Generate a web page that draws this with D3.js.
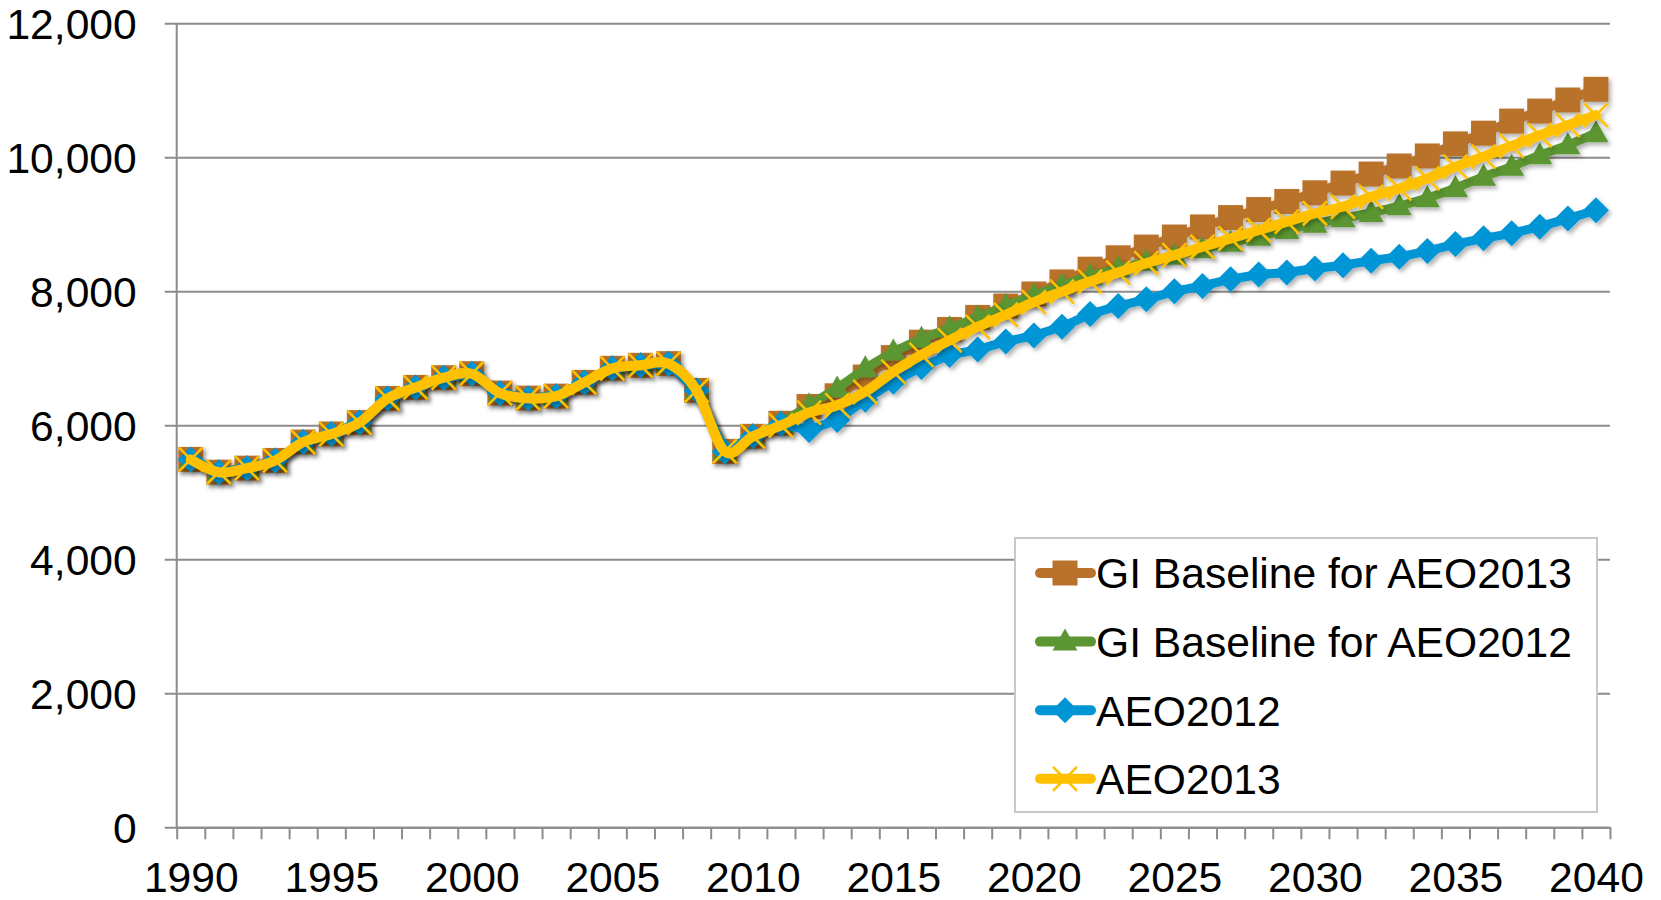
<!DOCTYPE html>
<html>
<head>
<meta charset="utf-8">
<script src="https://cdn.jsdelivr.net/npm/d3@7"></script>
<style>
  body { margin: 0; background: #fff; }
  svg { display: block; }
  text { font-family: "Liberation Sans", Arial, sans-serif; fill: #000; }
</style>
</head>
<body>
<svg id="viz"></svg>
<script>
var years = d3.range(1990, 2041);
var xLabels = [1990, 1995, 2000, 2005, 2010, 2015, 2020, 2025, 2030, 2035, 2040];
var yTicks = [0, 2000, 4000, 6000, 8000, 10000, 12000];

// 1990-2010, shared by every series
var historical = [5490, 5300, 5360, 5475, 5750, 5870, 6040, 6400, 6565, 6710, 6770,
                  6480, 6405, 6435, 6640, 6850, 6895, 6920, 6520, 5610, 5835];

// 2011-2040
var giAeo2013 = [6030, 6280, 6440, 6720, 7010, 7240, 7430, 7610, 7780, 7960,
                 8140, 8330, 8500, 8660, 8810, 8960, 9100, 9220, 9340, 9470,
                 9615, 9750, 9870, 10020, 10200, 10360, 10540, 10690, 10855, 11015];
var giAeo2012 = [6030, 6300, 6550, 6850, 7100, 7290, 7450, 7610, 7780, 7940,
                 8090, 8230, 8340, 8440, 8530, 8630, 8725, 8815, 8915, 9010,
                 9090, 9170, 9270, 9390, 9540, 9710, 9860, 10030, 10180, 10360];
var aeo2012 = [6020, 5930, 6080, 6380, 6650, 6870, 7050, 7130, 7250, 7340,
               7470, 7660, 7780, 7880, 8000, 8080, 8180, 8250, 8280, 8340,
               8390, 8455, 8515, 8600, 8705, 8790, 8865, 8965, 9085, 9210];
var aeo2013 = [6000, 6190, 6300, 6500, 6800, 7050, 7270, 7470, 7650, 7840,
               7995, 8145, 8280, 8420, 8540, 8665, 8790, 8915, 9040, 9165,
               9265, 9410, 9535, 9685, 9860, 10010, 10170, 10330, 10480, 10630];

var seriesNames = ["GI Baseline for AEO2013", "GI Baseline for AEO2012", "AEO2012", "AEO2013"];
var seriesColors = ["#b9722b", "#5b9632", "#0096d6", "#ffc000"];
var seriesShapes = ["square", "triangle", "diamond", "x"];
var seriesValues = [giAeo2013, giAeo2012, aeo2012, aeo2013];

var width = 1661, height = 900;
var plotLeft = 176.7, plotRight = 1610, plotTop = 23.3, plotBottom = 827.3;
var fontSize = 42.6;

var svg = d3.select("#viz").attr("width", width).attr("height", height);

var defs = svg.append("defs");
defs.append("filter").attr("id", "shadow")
    .attr("x", "-20%").attr("y", "-20%").attr("width", "140%").attr("height", "140%")
  .append("feDropShadow")
    .attr("dx", 2.5).attr("dy", 3).attr("stdDeviation", 2)
    .attr("flood-color", "#000").attr("flood-opacity", 0.3);

var x = d3.scaleLinear().domain([1989.5, 2040.5]).range([plotLeft, plotRight]);
var y = d3.scaleLinear().domain([0, 12000]).range([plotBottom, plotTop]);

// gridlines + y labels
var yAxis = svg.append("g")
    .attr("transform", "translate(" + plotLeft + ",0)")
    .call(d3.axisLeft(y).tickValues(yTicks).tickSizeOuter(0)
        .tickSize(-(plotRight - plotLeft)).tickPadding(40).tickFormat(d3.format(",")));
yAxis.select(".domain").remove();
yAxis.selectAll(".tick line").attr("x1", -12).attr("stroke", "#8c8c8c").attr("stroke-width", 2);
yAxis.selectAll(".tick text").attr("font-size", fontSize).attr("dy", "0.35em");

svg.append("line")
    .attr("x1", plotLeft).attr("x2", plotLeft).attr("y1", plotTop).attr("y2", plotBottom)
    .attr("stroke", "#8c8c8c").attr("stroke-width", 2);

// x ticks between categories
var xTicks = svg.append("g")
    .attr("transform", "translate(0," + plotBottom + ")")
    .call(d3.axisBottom(x).tickValues(d3.range(1989.5, 2041, 1)).tickSize(12).tickSizeOuter(0).tickFormat(""));
xTicks.select(".domain").attr("stroke", "#8c8c8c").attr("stroke-width", 2);
xTicks.selectAll(".tick line").attr("stroke", "#8c8c8c").attr("stroke-width", 2);

var xLab = svg.append("g")
    .attr("transform", "translate(0," + plotBottom + ")")
    .call(d3.axisBottom(x).tickValues(xLabels).tickSize(0).tickPadding(34).tickFormat(d3.format("d")));
xLab.select(".domain").remove();
xLab.selectAll(".tick text").attr("font-size", fontSize);

function marker(sel, shape, color) {
    if (shape === "square") {
        sel.append("rect").attr("x", -12.5).attr("y", -12.5).attr("width", 25).attr("height", 25)
            .attr("fill", color);
    } else if (shape === "triangle") {
        sel.append("path").attr("d", "M0,-13L12.5,9L-12.5,9Z").attr("fill", color);
    } else if (shape === "diamond") {
        sel.append("path").attr("d", "M0,-13L13,0L0,13L-13,0Z").attr("fill", color);
    } else {
        sel.append("path").attr("d", "M-12,-12L12,12M12,-12L-12,12")
            .attr("stroke", color).attr("stroke-width", 2.5).attr("fill", "none");
    }
}

var plot = svg.append("g");

seriesValues.forEach(function(vals, i) {
    var data = years.map(function(yr, j) {
        return {year: yr, value: j < historical.length ? historical[j] : vals[j - historical.length]};
    });
    var line = d3.line()
        .x(function(d) { return x(d.year); })
        .y(function(d) { return y(d.value); })
        .curve(i === 3 ? d3.curveCardinal : d3.curveLinear);

    var g = plot.append("g").attr("filter", "url(#shadow)");
    g.append("path").datum(data)
        .attr("d", line)
        .attr("fill", "none")
        .attr("stroke", seriesColors[i])
        .attr("stroke-width", i === 3 ? 10 : 9)
        .attr("stroke-linejoin", "round")
        .attr("stroke-linecap", "round");
    g.selectAll(".pt").data(data).enter().append("g")
        .attr("class", "pt")
        .attr("transform", function(d) { return "translate(" + x(d.year) + "," + y(d.value) + ")"; })
        .each(function() { marker(d3.select(this), seriesShapes[i], seriesColors[i]); });
});

// legend
var legend = svg.append("g");
legend.append("rect")
    .attr("x", 1015).attr("y", 538).attr("width", 582).attr("height", 274)
    .attr("fill", "#fff").attr("stroke", "#c8c8c8").attr("stroke-width", 2);

seriesNames.forEach(function(name, i) {
    var ly = 573 + i * 68.6;
    var item = legend.append("g");
    item.append("line")
        .attr("x1", 1040).attr("x2", 1091).attr("y1", ly).attr("y2", ly)
        .attr("stroke", seriesColors[i]).attr("stroke-width", 10).attr("stroke-linecap", "round");
    marker(item.append("g").attr("transform", "translate(1065," + ly + ")"), seriesShapes[i], seriesColors[i]);
    item.append("text")
        .attr("x", 1096).attr("y", ly).attr("dy", "0.36em")
        .attr("font-size", fontSize)
        .text(name);
});
</script>
</body>
</html>
